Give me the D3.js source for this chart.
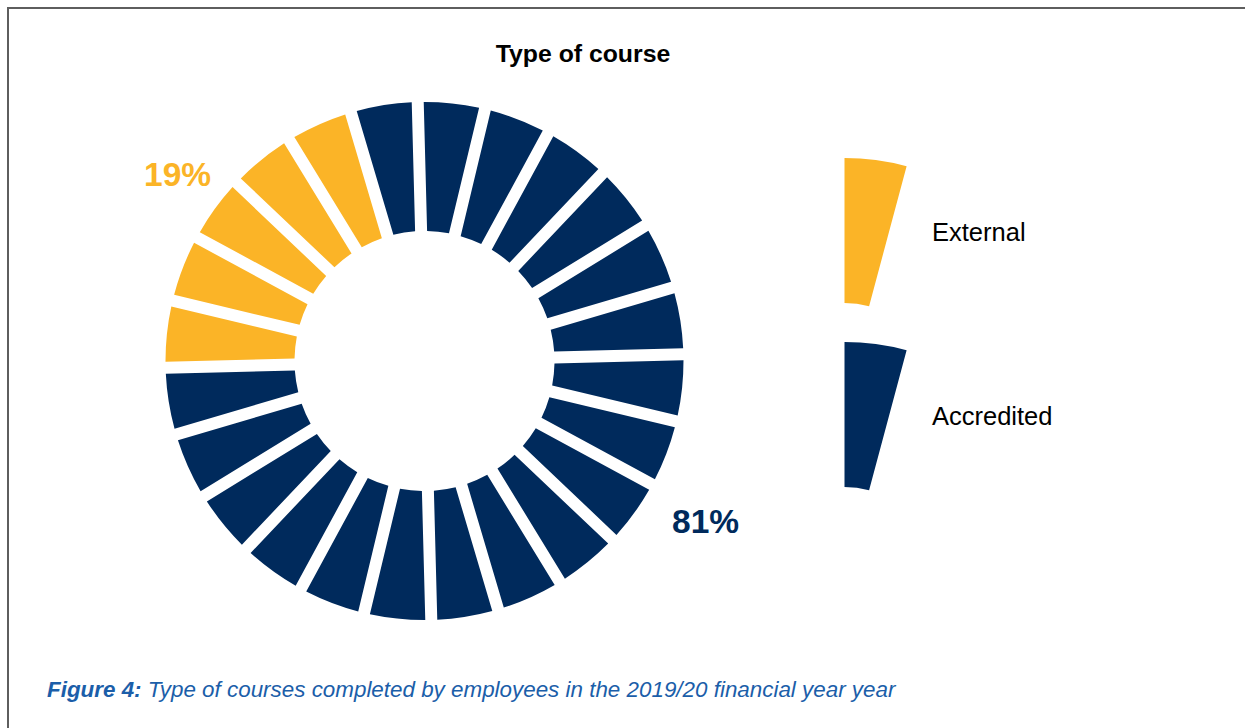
<!DOCTYPE html>
<html>
<head>
<meta charset="utf-8">
<script src="https://cdn.jsdelivr.net/npm/d3@7"></script>
<style>
  html, body { margin: 0; padding: 0; background: #ffffff; }
  svg { display: block; font-family: "Liberation Sans", Arial, Helvetica, sans-serif; }
</style>
</head>
<body>
<svg id="chart" width="1245" height="728"></svg>
<script>
// Course types and their share of completed courses (%)
const categories = ["External", "Accredited"];
const shares = [19, 81];
const shareLabels = ["19%", "81%"];
const colors = ["#FBB427", "#002A5C"];

// The ring is split into equal blocks, coloured by share
const segmentCount = 24;

const title = "Type of course";
const captionLead = "Figure 4:";
const captionText = " Type of courses completed by employees in the 2019/20 financial year year";

const svg = d3.select("#chart");

// frame (top and left edges of the box)
svg.append("path")
  .attr("d", "M8,728 L8,8 L1245,8")
  .attr("fill", "none")
  .attr("stroke", "#5e5e5e")
  .attr("stroke-width", 2);

// title
svg.append("text")
  .attr("x", 583)
  .attr("y", 62)
  .attr("text-anchor", "middle")
  .attr("font-size", 24.8)
  .attr("font-weight", "bold")
  .attr("fill", "#000")
  .text(title);

// segmented donut
const cx = 424.5, cy = 361;
const outerR = 259, innerR = 130;
const gap = 12;

const total = d3.sum(shares);
const externalBlocks = Math.round(shares[0] / total * segmentCount);
const blocks = d3.range(segmentCount).map(i => ({
  index: i,
  cat: i < externalBlocks ? 0 : 1
}));

// angle scale: block index -> clockwise angle from 12 o'clock
const startDeg = 268.5;
const angle = d3.scaleLinear()
  .domain([0, segmentCount])
  .range([startDeg * Math.PI / 180, (startDeg + 360) * Math.PI / 180]);

const arc = d3.arc()
  .innerRadius(innerR)
  .outerRadius(outerR)
  .padRadius(outerR)
  .padAngle(gap / outerR);

const ring = svg.append("g").attr("transform", `translate(${cx},${cy})`);
ring.selectAll("path")
  .data(blocks)
  .join("path")
  .attr("d", d => arc({ startAngle: angle(d.index), endAngle: angle(d.index + 1) }))
  .attr("fill", d => colors[d.cat]);

// share labels
svg.append("text")
  .attr("x", 144).attr("y", 186)
  .attr("font-size", 33.5).attr("font-weight", "bold")
  .attr("fill", colors[0])
  .text(shareLabels[0]);

svg.append("text")
  .attr("x", 672).attr("y", 533)
  .attr("font-size", 33.5).attr("font-weight", "bold")
  .attr("fill", colors[1])
  .text(shareLabels[1]);

// legend: one ring block per category
const legendArc = d3.arc()
  .innerRadius(95)
  .outerRadius(240)
  .startAngle(0)
  .endAngle(15 * Math.PI / 180);

const legendY = [398, 582];
const legendTextY = [241, 425];
const legend = svg.append("g");
categories.forEach((c, i) => {
  legend.append("path")
    .attr("transform", `translate(844.5,${legendY[i]})`)
    .attr("d", legendArc())
    .attr("fill", colors[i]);
  legend.append("text")
    .attr("x", 932)
    .attr("y", legendTextY[i])
    .attr("font-size", 25.5)
    .attr("fill", "#000")
    .text(c);
});

// caption
const cap = svg.append("text")
  .attr("x", 47)
  .attr("y", 697)
  .attr("font-size", 22.4)
  .attr("font-style", "italic")
  .attr("fill", "#1B5EA9");
cap.append("tspan").attr("font-weight", "bold").text(captionLead);
cap.append("tspan").text(captionText);
</script>
</body>
</html>
